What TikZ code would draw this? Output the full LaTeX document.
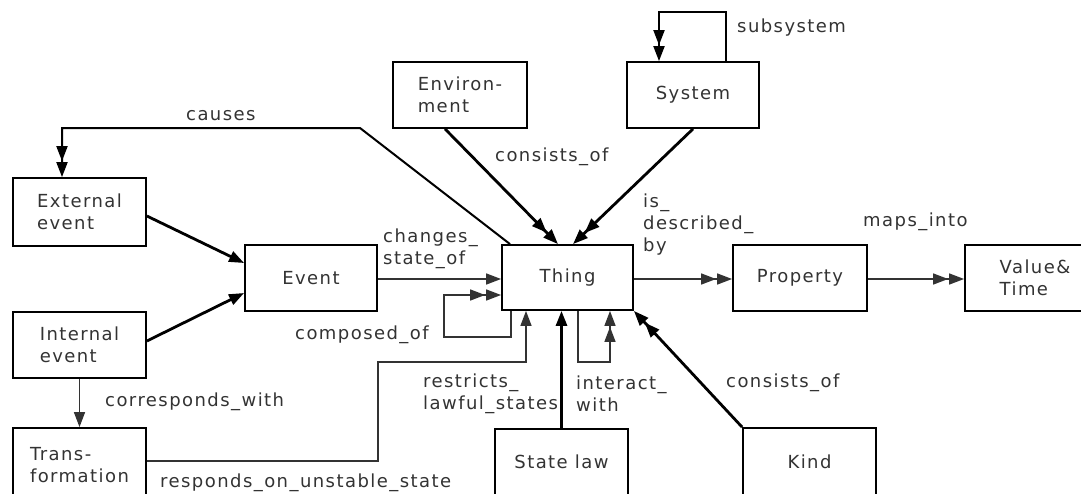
\documentclass[tikz,border=0pt]{standalone}
\usepackage{fontspec}
\setmainfont[LetterSpace=8]{DejaVu Sans}
\usetikzlibrary{arrows.meta}
\definecolor{txt}{gray}{0.2}
\definecolor{ln}{gray}{0.2}
\begin{document}
\begin{tikzpicture}[x=1pt,y=-1pt,
  font=\fontsize{18}{22}\selectfont,
  box/.style={draw=black, line width=1.8pt, fill=white, text=txt, align=left, inner sep=0pt},
  lbl/.style={text=txt, align=left, inner sep=0pt, anchor=west},
  thin/.style={draw=ln, line width=1.4pt},
  thick/.style={draw=black, line width=2.8pt},
  mid/.style={draw=black, line width=2pt},
  one/.style={-{Triangle[length=15pt,width=11pt]}},
  two/.style={-{Triangle[length=15pt,width=11pt,sep=1pt]Triangle[length=15pt,width=11pt]}}
]
\useasboundingbox (0,0) rectangle (1081,493);
\fill[white] (0,0) rectangle (1081,493);

% boxes
\node[box, minimum width=133pt, minimum height=68pt] (ext) at (79.5,212) {External\\event};
\node[box, minimum width=133pt, minimum height=66pt] (intl) at (79.5,345) {Internal\\event};
\node[box, minimum width=133pt, minimum height=74pt] (trans) at (79.5,465) {Trans-\\formation};
\node[box, minimum width=132pt, minimum height=66pt] (event) at (311,278) {Event};
\node[box, minimum width=131pt, minimum height=65pt] (thing) at (567.5,277.5) {Thing};
\node[box, minimum width=134pt, minimum height=66pt] (prop) at (800,278) {Property};
\node[box, minimum width=140pt, minimum height=66pt] (val) at (1035,278) {Value\&\\Time};
\node[box, minimum width=134pt, minimum height=66pt] (env) at (460,95) {Environ-\\ment};
\node[box, minimum width=132pt, minimum height=66pt] (sys) at (693,95) {System};
\node[box, minimum width=133pt, minimum height=66pt] (law) at (561.5,462) {State law};
\node[box, minimum width=133pt, minimum height=67pt] (kind) at (809.5,461.5) {Kind};

% connectors
\draw[thick, one] (ext.east |- 0,216) -- (event.west |- 0,263);
\draw[thick, one] (intl.east |- 0,341) -- (event.west |- 0,293);
\draw[thin, one] (event.east |- 0,279) -- (thing.west |- 0,279);
\draw[thin, two] (thing.south -| 511,0) |- (444,337) |- (thing.west |- 0,295);
\draw[thin, one] (trans.east |- 0,461) -| (378,362) -| (thing.south -| 526,0);
\draw[thick, one] (law.north) -- (thing.south -| law.north);
\draw[thin, two] (thing.south -| 578,0) |- (610,362) -- (thing.south -| 610,0);
\draw[thick, two] (kind.north west) -- (thing.south east);
\draw[thin, two] (thing.east |- 0,279) -- (prop.west |- 0,279);
\draw[thin, two] (prop.east |- 0,279) -- (val.west |- 0,279);
\draw[thick, two] (env.south -| 445,0) -- (thing.north -| 558,0);
\draw[thick, two] (sys.south) -- (thing.north -| 573,0);
\draw[mid, two] (sys.north -| 726,0) |- (659,12) -- (sys.north -| 659,0);
\draw[mid, two] (thing.north -| 510,0) -- (360,128) -| (ext.north -| 62,0);
\draw[thin, one] (intl.south) -- (trans.north);

% labels
\node[lbl] (lcauses) at (186,116) {causes};
\node[lbl] (lcons1) at (495,157) {consists\_of};
\node[lbl] (lsub) at (737,28) {subsystem};
\node[lbl] (lchg) at (383,249) {changes\_\\state\_of};
\node[lbl] (ldesc) at (643,225) {is\_\\described\_\\by};
\node[lbl] (lmaps) at (863,222) {maps\_into};
\node[lbl] (lcomp) at (295,335) {composed\_of};
\node[lbl] (lcorr) at (105,402) {corresponds\_with};
\node[lbl] (lresp) at (160,483) {responds\_on\_unstable\_state};
\node[lbl] (lrestr) at (423,394) {restricts\_\\lawful\_states};
\node[lbl] (linter) at (576,394) {interact\_\\with};
\node[lbl] (lcons2) at (726,383) {consists\_of};
\end{tikzpicture}
\end{document}
